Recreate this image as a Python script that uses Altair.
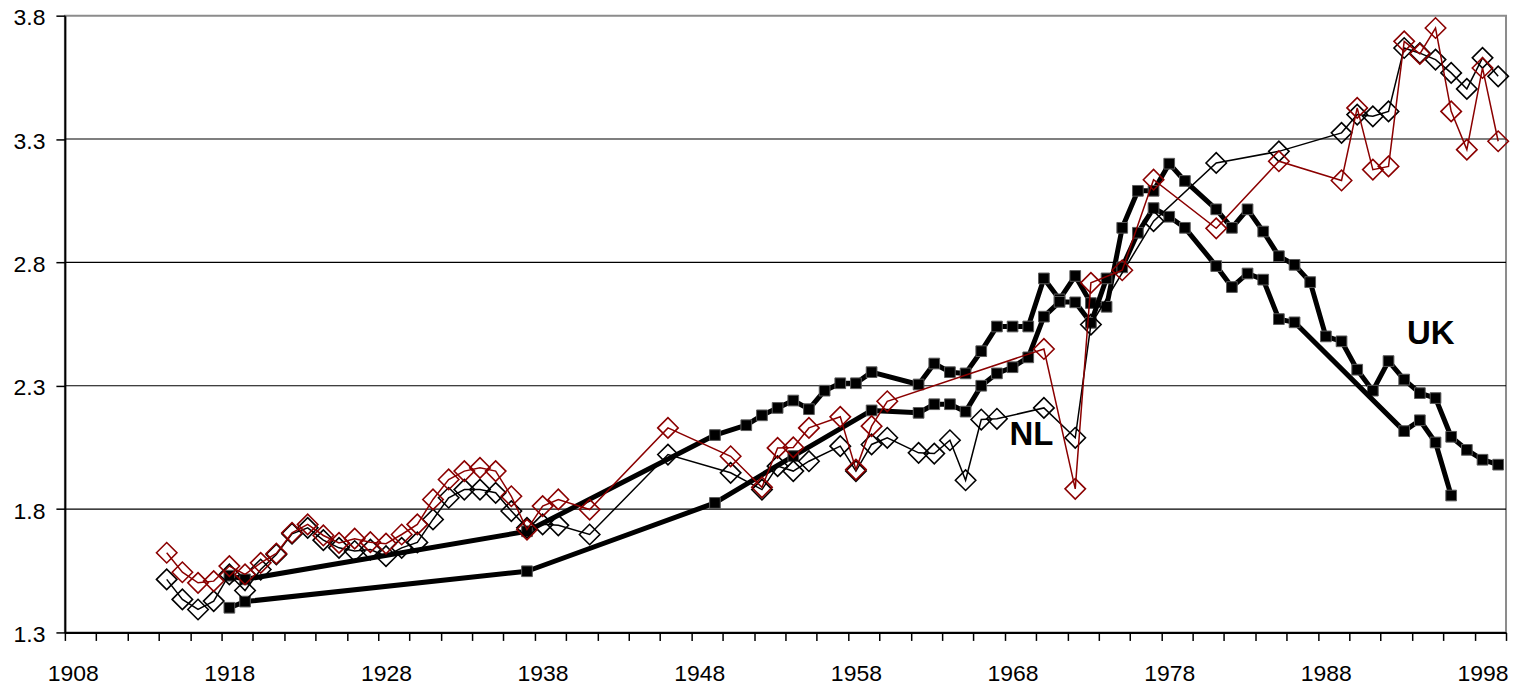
import altair as alt
import pandas as pd

# ---- data ----
uk_years = [1918, 1919, 1937, 1949, 1951, 1952, 1953, 1954, 1955, 1956, 1957, 1958, 1959,
            1962, 1963, 1964, 1965, 1966, 1967, 1968, 1969, 1970, 1971, 1972, 1973, 1974,
            1975, 1976, 1977, 1978, 1979, 1981, 1982, 1983, 1984, 1985, 1986, 1987, 1988,
            1989, 1990, 1991, 1992, 1993, 1994, 1995, 1996, 1997, 1998, 1999]
uk_vals = [1.53, 1.515, 1.71, 2.10, 2.14, 2.18, 2.21, 2.24, 2.205, 2.28, 2.31, 2.31, 2.355,
           2.305, 2.39, 2.355, 2.35, 2.44, 2.54, 2.54, 2.54, 2.735, 2.65, 2.745, 2.635, 2.62,
           2.94, 3.09, 3.09, 3.20, 3.13, 3.015, 2.94, 3.015, 2.925, 2.825, 2.79, 2.72, 2.50,
           2.48, 2.365, 2.28, 2.40, 2.325, 2.27, 2.25, 2.093, 2.04, 2.00, 1.98]

nl_years = [1918, 1919, 1937, 1949, 1954, 1959, 1962, 1963, 1964, 1965, 1966, 1967, 1968,
            1969, 1970, 1971, 1972, 1973, 1974, 1975, 1976, 1977, 1978, 1979, 1981, 1982,
            1983, 1984, 1985, 1986, 1993, 1994, 1995, 1996]
nl_vals = [1.40, 1.425, 1.548, 1.825, 2.015, 2.20, 2.19, 2.225, 2.225, 2.195, 2.30, 2.35, 2.375,
           2.415, 2.58, 2.64, 2.638, 2.555, 2.735, 2.78, 2.92, 3.02, 2.985, 2.94, 2.785, 2.70,
           2.755, 2.73, 2.57, 2.557, 2.116, 2.16, 2.07, 1.855]

blk_years = [1914, 1915, 1916, 1917, 1918, 1919, 1920, 1921, 1922, 1923, 1924, 1925, 1926,
             1927, 1928, 1929, 1930, 1931, 1932, 1933, 1934, 1935, 1936, 1937, 1938, 1939,
             1941, 1946, 1950, 1952, 1953, 1954, 1955, 1957, 1958, 1959, 1960, 1962, 1963,
             1964, 1965, 1966, 1967, 1970, 1972, 1973, 1977, 1981, 1985, 1989, 1990, 1991,
             1992, 1993, 1994, 1995, 1996, 1997, 1998, 1999]
blk_vals = [1.515, 1.434, 1.393, 1.427, 1.535, 1.47, 1.555, 1.616, 1.70, 1.724, 1.674, 1.643,
            1.63, 1.636, 1.609, 1.643, 1.665, 1.758, 1.846, 1.879, 1.879, 1.866, 1.792, 1.724,
            1.738, 1.734, 1.697, 2.021, 1.947, 1.879, 1.974, 1.954, 1.994, 2.055, 1.954, 2.062,
            2.089, 2.028, 2.025, 2.079, 1.917, 2.163, 2.166, 2.21, 2.089, 2.548, 2.967, 3.203,
            3.25, 3.325, 3.399, 3.392, 3.412, 3.669, 3.648, 3.622, 3.568, 3.503, 3.629, 3.554]

red_years = [1914, 1915, 1916, 1917, 1918, 1919, 1920, 1921, 1922, 1923, 1924, 1925, 1926,
             1927, 1928, 1929, 1930, 1931, 1932, 1933, 1934, 1935, 1936, 1937, 1938, 1939,
             1941, 1946, 1950, 1952, 1953, 1954, 1955, 1957, 1958, 1959, 1960, 1970, 1972,
             1973, 1975, 1977, 1981, 1985, 1989, 1990, 1991, 1992, 1993, 1994, 1995, 1996,
             1997, 1998, 1999]
red_vals = [1.623, 1.544, 1.501, 1.508, 1.569, 1.535, 1.582, 1.62, 1.704, 1.738, 1.693, 1.663,
            1.68, 1.666, 1.66, 1.697, 1.738, 1.839, 1.92, 1.954, 1.967, 1.954, 1.852, 1.717,
            1.812, 1.839, 1.798, 2.129, 2.014, 1.888, 2.048, 2.05, 2.129, 2.174, 1.96, 2.136,
            2.237, 2.449, 1.882, 2.717, 2.768, 3.135, 2.938, 3.21, 3.132, 3.426, 3.176, 3.189,
            3.696, 3.645, 3.75, 3.412, 3.257, 3.588, 3.291]

label_texts = ["UK", "NL"]
label_years = [1994.7, 1969.2]
label_vals = [2.51, 2.10]

x_domain = [1907.5, 1999.5]
x_tick_years = [1907.5 + 2 * k for k in range(47)]
y_ticks = [1.3, 1.8, 2.3, 2.8, 3.3, 3.8]
grid_vals = [1.8, 2.3, 2.8, 3.3]

# ---- chart ----
def frame(years, vals):
    return pd.DataFrame({"year": years, "value": vals})

x_enc = alt.X(
    "year:Q",
    scale=alt.Scale(domain=x_domain, nice=False, zero=False),
    axis=alt.Axis(
        values=x_tick_years,
        labelExpr="(datum.value - 1907.5) % 10 == 0 ? toString(datum.value + 0.5) : ''",
        title=None, grid=False, tickSize=8, labelOffset=7.8, labelPadding=22,
        labelOverlap=False, labelBound=False, labelFlush=False,
    ),
)
y_enc = alt.Y(
    "value:Q",
    scale=alt.Scale(domain=[1.3, 3.8], nice=False, zero=False),
    axis=alt.Axis(values=y_ticks, format=".1f", title=None, grid=False,
                  tickSize=9, labelPadding=11, labelOffset=2, labelOverlap=False,
                  labelBound=False, labelFlush=False),
)

grid = alt.Chart(pd.DataFrame({"value": grid_vals})).mark_rule(
    color="black", strokeWidth=1.2
).encode(y=y_enc)

def thick(years, vals):
    df = frame(years, vals)
    line = alt.Chart(df).mark_line(color="black", strokeWidth=5, strokeJoin="round").encode(x=x_enc, y=y_enc)
    pts = alt.Chart(df).mark_point(shape="square", filled=True, fill="black", stroke="#5a5a5a",
                                   strokeWidth=1, size=115, opacity=1).encode(x=x_enc, y=y_enc)
    return [line, pts]

def thin(years, vals, color):
    df = frame(years, vals)
    line = alt.Chart(df).mark_line(color=color, strokeWidth=1.5).encode(x=x_enc, y=y_enc)
    pts = alt.Chart(df).mark_point(shape="diamond", filled=False, color=color,
                                   strokeWidth=1.6, size=420, opacity=1).encode(x=x_enc, y=y_enc)
    return [line, pts]

labels = alt.Chart(pd.DataFrame({"label": label_texts, "year": label_years, "value": label_vals})).mark_text(
    font="Liberation Sans", fontSize=33, fontWeight="bold", color="black",
    align="center", baseline="middle"
).encode(x=x_enc, y=y_enc, text="label:N")

layers = [grid] + thick(uk_years, uk_vals) + thick(nl_years, nl_vals) \
    + thin(blk_years, blk_vals, "black") + thin(red_years, red_vals, "#8b0000") + [labels]

chart = alt.layer(*layers).properties(
    width=1444, height=618,
    padding={"left": 57, "top": 7, "right": 5, "bottom": 58},
    autosize=alt.AutoSizeParams(type="none"),
).configure_view(
    stroke="#8c8c8c", strokeWidth=2
).configure_axis(
    labelFont="Liberation Sans", labelFontSize=23, labelColor="black",
    domainColor="black", domainWidth=2, tickColor="black", tickWidth=1.5,
)

chart.save("out.html", embed_options={"renderer": "svg", "actions": False})
